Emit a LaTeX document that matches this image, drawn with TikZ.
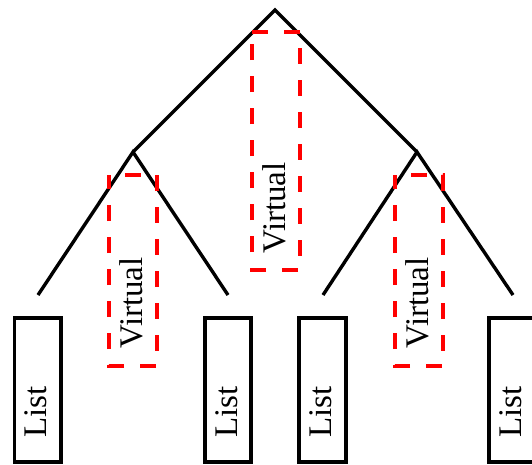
\documentclass[tikz,border=0pt]{standalone}
\usepackage{fontspec}
\setmainfont{Liberation Serif}
\begin{document}
\begin{tikzpicture}[x=1pt,y=-1pt,
  branch/.style={line width=3.4pt},
  listbox/.style={draw, line width=3.6pt, minimum width=46.5pt, minimum height=144pt, inner sep=0pt},
  vbox/.style={draw=red, line width=3.4pt, dash pattern=on 16pt off 16pt},
  lbl/.style={rotate=90, inner sep=0pt, font=\fontsize{33}{36}\selectfont}]
  \useasboundingbox (0,0) rectangle (532,464);

  % tree skeleton
  \coordinate (root) at (275,10);
  \coordinate (jl) at (133,152);
  \coordinate (jr) at (417,152);
  \coordinate (l1) at (38,295);
  \coordinate (l2) at (228,295);
  \coordinate (l3) at (323,295);
  \coordinate (l4) at (513,295);

  \draw[branch] (jl) -- (root) -- (jr);
  \draw[branch] (l1) -- (jl) -- (l2);
  \draw[branch] (l3) -- (jr) -- (l4);

  % leaf lists
  \node[listbox] (b1) at (37.7,390.2) {};
  \node[listbox] (b2) at (228,390.2) {};
  \node[listbox] (b3) at (322.5,390.2) {};
  \node[listbox] (b4) at (512.5,390.2) {};
  \node[lbl] (t1) at (36,412) {List};
  \node[lbl] (t2) at (226.3,412) {List};
  \node[lbl] (t3) at (320.8,412) {List};
  \node[lbl] (t4) at (510.8,412) {List};

  % virtual nodes
  \draw[vbox] (252,32) -- (300,32) -- (300,270) -- (252,270) -- cycle;
  \draw[vbox, dash phase=16pt] (109,175) -- (157,175) -- (157,366) -- (109,366) -- cycle;
  \draw[vbox, dash phase=16pt] (395,175) -- (443,175) -- (443,366) -- (395,366) -- cycle;
  \node[lbl] (v0) at (274.5,208) {Virtual};
  \node[lbl] (v1) at (130.8,303) {Virtual};
  \node[lbl] (v2) at (417.3,303) {Virtual};
\end{tikzpicture}
\end{document}
